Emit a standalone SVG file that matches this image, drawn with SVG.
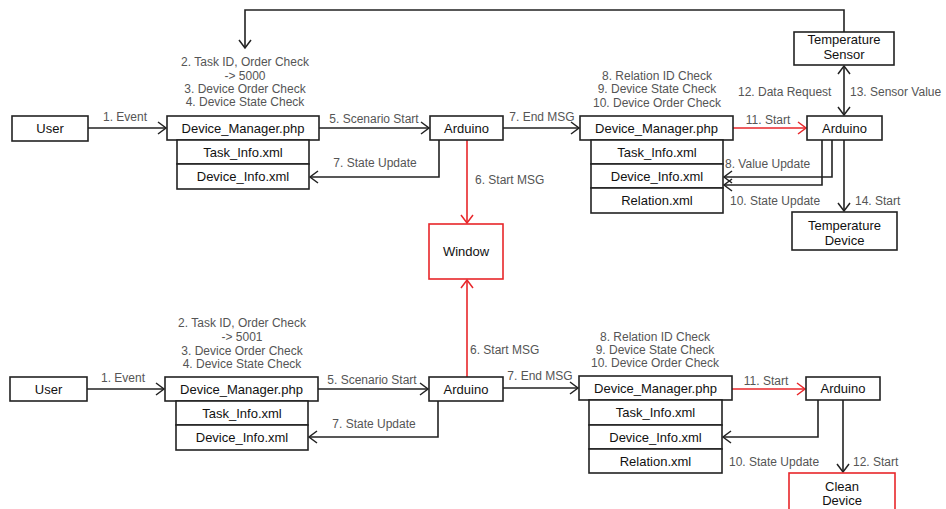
<svg xmlns="http://www.w3.org/2000/svg" width="946" height="509" viewBox="0 0 946 509">
<defs>
<marker id="ah" markerUnits="userSpaceOnUse" markerWidth="12" markerHeight="14" refX="10" refY="7" orient="auto-start-reverse">
<path d="M2,1 L10,7 L2,13" fill="none" stroke="#222" stroke-width="1.5"/>
</marker>
<marker id="ahr" markerUnits="userSpaceOnUse" markerWidth="12" markerHeight="14" refX="10" refY="7" orient="auto-start-reverse">
<path d="M2,1 L10,7 L2,13" fill="none" stroke="#e8262a" stroke-width="1.5"/>
</marker>
<style>
rect{fill:#fff;stroke:#222;stroke-width:1.6}
rect.red{stroke:#e8262a}
text{font-family:"Liberation Sans",Arial,sans-serif}
.bt{font-size:13px;fill:#111;text-anchor:middle}
.lb{font-size:12px;fill:#555}
.c{text-anchor:middle}
.ln{fill:none;stroke:#222;stroke-width:1.6}
.lr{fill:none;stroke:#e8262a;stroke-width:1.6}
</style>
</defs>
<rect x="0" y="0" width="946" height="509" style="fill:#fff;stroke:none"/>

<g id="connectors">
<path class="ln" d="M844,32 V10 H245 V48" marker-end="url(#ah)"/>
<path class="ln" d="M88,128 H166" marker-end="url(#ah)"/>
<path class="ln" d="M319,128 H429" marker-end="url(#ah)"/>
<path class="ln" d="M439,140 V177 H310" marker-end="url(#ah)"/>
<path class="lr" d="M467,140 V223" marker-end="url(#ahr)"/>
<path class="ln" d="M503,128 H579" marker-end="url(#ah)"/>
<path class="lr" d="M733,128 H806" marker-end="url(#ahr)"/>
<path class="ln" d="M844,66 V115" marker-start="url(#ah)" marker-end="url(#ah)"/>
<path class="ln" d="M832,140 V177 H724" marker-end="url(#ah)"/>
<path class="ln" d="M822,140 V185 H724" marker-end="url(#ah)"/>
<path class="ln" d="M844,140 V211" marker-end="url(#ah)"/>

<path class="ln" d="M87,389 H164" marker-end="url(#ah)"/>
<path class="ln" d="M318,389 H428" marker-end="url(#ah)"/>
<path class="ln" d="M438,401 V437 H309" marker-end="url(#ah)"/>
<path class="lr" d="M467,377 V280" marker-end="url(#ahr)"/>
<path class="ln" d="M503,388 H578" marker-end="url(#ah)"/>
<path class="lr" d="M732,389 H805" marker-end="url(#ahr)"/>
<path class="ln" d="M818,400 V437 H723" marker-end="url(#ah)"/>
<path class="ln" d="M843,400 V472" marker-end="url(#ah)"/>
</g>

<g id="labels">
<text class="lb c" x="245" y="66">2. Task ID, Order Check</text>
<text class="lb c" x="245" y="79.5">-&gt; 5000</text>
<text class="lb c" x="245" y="93">3. Device Order Check</text>
<text class="lb c" x="245" y="106">4. Device State Check</text>
<text class="lb c" x="125" y="121">1. Event</text>
<text class="lb c" x="374" y="123">5. Scenario Start</text>
<text class="lb c" x="375" y="167">7. State Update</text>
<text class="lb" x="475" y="184">6. Start MSG</text>
<text class="lb c" x="542" y="121">7. End MSG</text>
<text class="lb c" x="657" y="80">8. Relation ID Check</text>
<text class="lb c" x="657" y="93">9. Device State Check</text>
<text class="lb c" x="657" y="107">10. Device Order Check</text>
<text class="lb c" x="768" y="124">11. Start</text>
<text class="lb" x="738" y="96">12. Data Request</text>
<text class="lb" x="850" y="96">13. Sensor Value</text>
<text class="lb" x="725" y="168">8. Value Update</text>
<text class="lb" x="730" y="205">10. State Update</text>
<text class="lb" x="855" y="205">14. Start</text>

<text class="lb c" x="242" y="327">2. Task ID, Order Check</text>
<text class="lb c" x="242" y="341">-&gt; 5001</text>
<text class="lb c" x="242" y="355">3. Device Order Check</text>
<text class="lb c" x="242" y="368">4. Device State Check</text>
<text class="lb c" x="123" y="382">1. Event</text>
<text class="lb c" x="372" y="384">5. Scenario Start</text>
<text class="lb c" x="374" y="428">7. State Update</text>
<text class="lb" x="470" y="354">6. Start MSG</text>
<text class="lb c" x="540" y="380">7. End MSG</text>
<text class="lb c" x="655" y="341">8. Relation ID Check</text>
<text class="lb c" x="655" y="354">9. Device State Check</text>
<text class="lb c" x="655" y="367">10. Device Order Check</text>
<text class="lb c" x="766" y="385">11. Start</text>
<text class="lb" x="729" y="466">10. State Update</text>
<text class="lb" x="853" y="466">12. Start</text>
</g>

<g id="user1"><rect x="12" y="116" width="76" height="25"/><text class="bt" x="50" y="133">User</text></g>
<g id="dm1"><rect x="167" y="116" width="152" height="24"/><text class="bt" x="243" y="133">Device_Manager.php</text></g>
<g id="task1"><rect x="177" y="140" width="132" height="24"/><text class="bt" x="243" y="157">Task_Info.xml</text></g>
<g id="dev1"><rect x="177" y="164" width="132" height="25"/><text class="bt" x="243" y="181">Device_Info.xml</text></g>
<g id="ard1"><rect x="430" y="116" width="73" height="24"/><text class="bt" x="466.5" y="133">Arduino</text></g>
<g id="window"><rect class="red" x="429" y="224" width="74" height="55"/><text class="bt" x="466" y="256">Window</text></g>
<g id="dm2"><rect x="580" y="116" width="153" height="24"/><text class="bt" x="656.5" y="133">Device_Manager.php</text></g>
<g id="task2"><rect x="591" y="140" width="132" height="24"/><text class="bt" x="657" y="157">Task_Info.xml</text></g>
<g id="dev2"><rect x="591" y="164" width="132" height="24"/><text class="bt" x="657" y="181">Device_Info.xml</text></g>
<g id="rel2"><rect x="591" y="188" width="132" height="25"/><text class="bt" x="657" y="205">Relation.xml</text></g>
<g id="ard2"><rect x="807" y="116" width="75" height="24"/><text class="bt" x="844.5" y="133">Arduino</text></g>
<g id="tsensor"><rect x="794" y="32" width="100" height="33"/><text class="bt" x="844" y="44">Temperature</text><text class="bt" x="844" y="59">Sensor</text></g>
<g id="tdevice"><rect x="792" y="212" width="105" height="38"/><text class="bt" x="844.5" y="230">Temperature</text><text class="bt" x="844.5" y="245">Device</text></g>

<g id="user2"><rect x="10" y="377" width="77" height="24"/><text class="bt" x="48.5" y="394">User</text></g>
<g id="dm3"><rect x="165" y="377" width="153" height="24"/><text class="bt" x="241.5" y="394">Device_Manager.php</text></g>
<g id="task3"><rect x="176" y="401" width="132" height="24"/><text class="bt" x="242" y="418">Task_Info.xml</text></g>
<g id="dev3"><rect x="176" y="425" width="132" height="25"/><text class="bt" x="242" y="442">Device_Info.xml</text></g>
<g id="ard3"><rect x="429" y="377" width="74" height="24"/><text class="bt" x="466" y="394">Arduino</text></g>
<g id="dm4"><rect x="579" y="376" width="153" height="24"/><text class="bt" x="655.5" y="393">Device_Manager.php</text></g>
<g id="task4"><rect x="589" y="400" width="133" height="25"/><text class="bt" x="655.5" y="417">Task_Info.xml</text></g>
<g id="dev4"><rect x="589" y="425" width="133" height="24"/><text class="bt" x="655.5" y="442">Device_Info.xml</text></g>
<g id="rel4"><rect x="589" y="449" width="133" height="24"/><text class="bt" x="655.5" y="466">Relation.xml</text></g>
<g id="ard4"><rect x="806" y="377" width="74" height="23"/><text class="bt" x="843" y="393">Arduino</text></g>
<g id="clean"><rect class="red" x="789" y="473" width="106" height="42"/><text class="bt" x="842" y="491">Clean</text><text class="bt" x="842" y="505">Device</text></g>
</svg>
